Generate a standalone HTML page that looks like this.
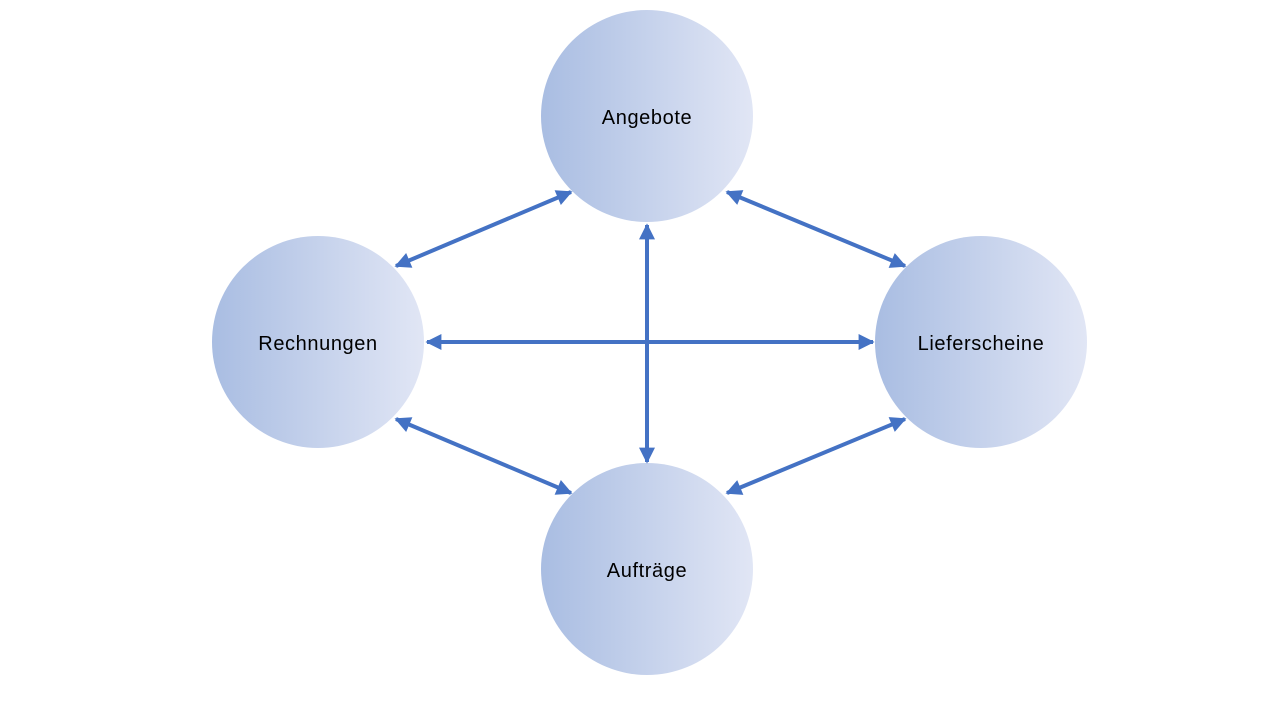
<!DOCTYPE html>
<html><head><meta charset="utf-8"><style>
html,body{margin:0;padding:0;background:#fff;}
svg{display:block}
text{font-family:"Liberation Sans",sans-serif;font-size:20px;letter-spacing:0.6px;fill:#000;}
</style></head><body>
<svg width="1280" height="720" viewBox="0 0 1280 720" xmlns="http://www.w3.org/2000/svg">
<defs>
<linearGradient id="g" x1="0" y1="0" x2="1" y2="0">
<stop offset="0" stop-color="#a9bde2"/>
<stop offset="1" stop-color="#e1e6f5"/>
</linearGradient>
<marker id="a" viewBox="0 0 10 10" refX="9" refY="5" markerWidth="4.5" markerHeight="4" orient="auto-start-reverse" markerUnits="strokeWidth">
<path d="M0,0 L10,5 L0,10 z" fill="#4472c4"/>
</marker>
</defs>
<circle cx="647" cy="116" r="106" fill="url(#g)"/>
<circle cx="318" cy="342" r="106" fill="url(#g)"/>
<circle cx="981" cy="342" r="106" fill="url(#g)"/>
<circle cx="647" cy="569" r="106" fill="url(#g)"/>
<g stroke="#4472c4" stroke-width="4" fill="none" marker-start="url(#a)" marker-end="url(#a)">
<line x1="427" y1="342" x2="873" y2="342"/>
<line x1="647" y1="225" x2="647" y2="462"/>
<line x1="396" y1="266" x2="571" y2="192"/>
<line x1="727" y1="192" x2="905" y2="266"/>
<line x1="396" y1="419" x2="571" y2="493"/>
<line x1="727" y1="493" x2="905" y2="419"/>
</g>
<text x="647" y="124" text-anchor="middle">Angebote</text>
<text x="318" y="350" text-anchor="middle">Rechnungen</text>
<text x="981" y="350" text-anchor="middle">Lieferscheine</text>
<text x="647" y="577" text-anchor="middle">Aufträge</text>
</svg>
</body></html>
